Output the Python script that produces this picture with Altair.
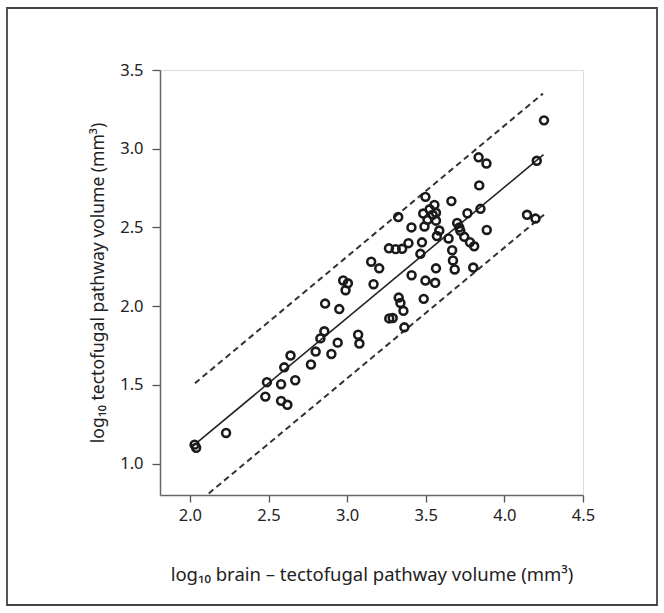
import altair as alt
import pandas as pd

# data points
brain_x = [2.03, 2.04, 2.23, 2.48, 2.49, 2.58, 2.58, 2.62, 2.60, 2.64, 2.67,
           2.77, 2.80, 2.83, 2.855, 2.86, 2.90, 2.94, 2.95, 2.975, 2.99, 3.005,
           3.07, 3.078, 3.153, 3.168, 3.204, 3.266, 3.268, 3.29, 3.309, 3.325,
           3.328, 3.339, 3.35, 3.358, 3.364, 3.39, 3.409, 3.41, 3.466, 3.476,
           3.484, 3.487, 3.498, 3.492, 3.498, 3.511, 3.525, 3.544, 3.555,
           3.565, 3.565, 3.565, 3.56, 3.586, 3.571, 3.645, 3.663, 3.668, 3.673,
           3.684, 3.70, 3.713, 3.72, 3.745, 3.765, 3.781, 3.808, 3.802, 3.836,
           3.840, 3.848, 3.886, 3.888, 4.144, 4.198, 4.206, 4.252]
tecto_y = [1.12, 1.10, 1.194, 1.425, 1.517, 1.504, 1.398, 1.373, 1.611, 1.686,
           1.529, 1.629, 1.711, 1.795, 1.840, 2.016, 1.696, 1.768, 1.981, 2.163,
           2.101, 2.145, 1.818, 1.762, 2.282, 2.139, 2.240, 2.367, 1.922, 1.924,
           2.362, 2.566, 2.054, 2.020, 2.364, 1.970, 1.865, 2.400, 2.500, 2.196,
           2.332, 2.405, 2.588, 2.046, 2.162, 2.506, 2.694, 2.548, 2.615,
           2.580, 2.643, 2.593, 2.543, 2.240, 2.148, 2.480, 2.445, 2.430, 2.667,
           2.355, 2.290, 2.233, 2.528, 2.500, 2.478, 2.440, 2.590, 2.406, 2.380,
           2.245, 2.945, 2.767, 2.618, 2.906, 2.484, 2.580, 2.556, 2.923, 3.180]

# regression line and prediction bounds (end points)
fit_x = [2.047, 4.249]
fit_y = [1.134, 2.962]
upper_x = [2.032, 4.245]
upper_y = [1.51, 3.35]
lower_x = [2.12, 4.253]
lower_y = [0.81, 2.582]

x_ticks = [2.0, 2.5, 3.0, 3.5, 4.0, 4.5]
y_ticks = [1.0, 1.5, 2.0, 2.5, 3.0, 3.5]

pts = pd.DataFrame({"x": brain_x, "y": tecto_y})
lines = pd.concat([
    pd.DataFrame({"x": fit_x, "y": fit_y, "g": "fit"}),
    pd.DataFrame({"x": upper_x, "y": upper_y, "g": "upper"}),
    pd.DataFrame({"x": lower_x, "y": lower_y, "g": "lower"}),
])

FONT = "Noto Sans"
xscale = alt.Scale(domain=[1.81, 4.5], nice=False, zero=False)
yscale = alt.Scale(domain=[0.8, 3.5], nice=False, zero=False)

xaxis = alt.Axis(values=x_ticks, format=".1f", grid=False,
                 title="log₁₀ brain – tectofugal pathway volume (mm³)",
                 domainColor="#666", domainWidth=1.5, tickColor="#555",
                 tickWidth=1.3, tickSize=7, labelFont=FONT, labelFontSize=16.5,
                 labelColor="#222", labelPadding=5, titleFont=FONT,
                 titleFontSize=18.5, titleFontWeight="normal", titleColor="#222",
                 titlePadding=42, labelFlush=False)
yaxis = alt.Axis(values=y_ticks, format=".1f", grid=False,
                 title="log₁₀ tectofugal pathway volume (mm³)",
                 domainColor="#666", domainWidth=1.5, tickColor="#555",
                 tickWidth=1.3, tickSize=8, labelFont=FONT, labelFontSize=16.5,
                 labelColor="#222", labelPadding=9, titleFont=FONT,
                 titleFontSize=17.5, titleFontWeight="normal", titleColor="#222",
                 titlePadding=12, labelFlush=False)

fit = alt.Chart(lines[lines.g == "fit"]).mark_line(
    color="#222", strokeWidth=1.6).encode(
    x=alt.X("x:Q", scale=xscale, axis=xaxis),
    y=alt.Y("y:Q", scale=yscale, axis=yaxis))

bounds = alt.Chart(lines[lines.g != "fit"]).mark_line(
    color="#333", strokeWidth=2, strokeDash=[6, 4]).encode(
    x=alt.X("x:Q", scale=xscale),
    y=alt.Y("y:Q", scale=yscale),
    detail="g:N")

points = alt.Chart(pts).mark_point(
    shape="circle", filled=False, size=62, strokeWidth=2.6,
    color="#1a1a1a", opacity=1).encode(
    x=alt.X("x:Q", scale=xscale),
    y=alt.Y("y:Q", scale=yscale))

frame = alt.Chart(pd.DataFrame({"a": [0]})).mark_rect(
    fill=None, stroke="#444", strokeWidth=1.8).encode(
    x=alt.value(-153), x2=alt.value(497),
    y=alt.value(-62), y2=alt.value(535))

chart = alt.layer(bounds, fit, points, frame).properties(
    width=423, height=425,
    autosize=alt.AutoSizeParams(type="none"),
    padding={"left": 160, "top": 70, "right": 81, "bottom": 118},
).configure_view(stroke=None).configure(background="white")

chart.save("out.html", embed_options={"renderer": "svg", "actions": False})
